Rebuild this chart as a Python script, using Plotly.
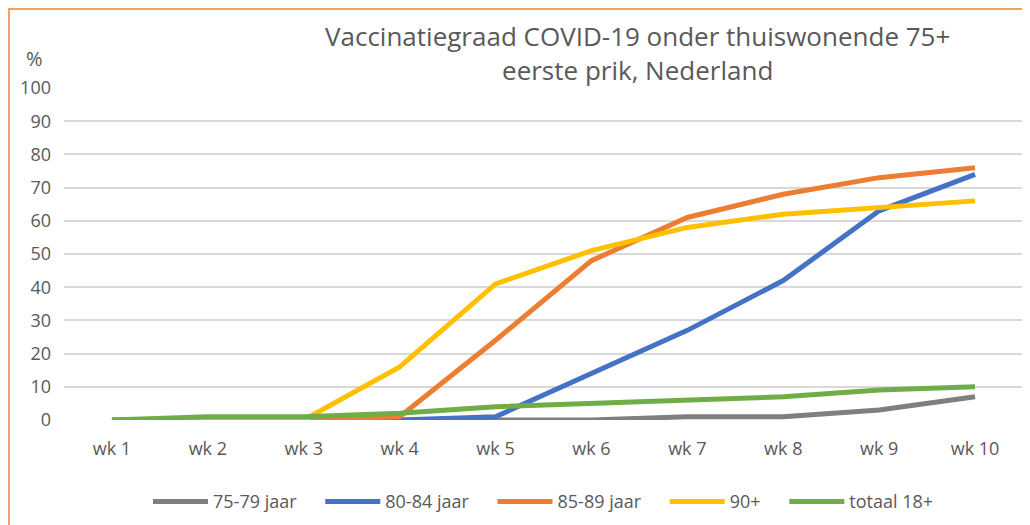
import plotly.graph_objects as go

# Weeks and vaccination percentages (first dose)
weeks = ["wk 1", "wk 2", "wk 3", "wk 4", "wk 5", "wk 6", "wk 7", "wk 8", "wk 9", "wk 10"]
age_75_79 = [0, 0, 0, 0, 0, 0, 1, 1, 3, 7]
age_80_84 = [0, 0, 0, 0, 1, 14, 27, 42, 63, 74]
age_85_89 = [0, 0, 0, 1, 24, 48, 61, 68, 73, 76]
age_90plus = [0, 0, 0, 16, 41, 51, 58, 62, 64, 66]
totaal_18 = [0, 1, 1, 2, 4, 5, 6, 7, 9, 10]

series = [
    ("75-79 jaar", age_75_79, "#7f7f7f"),
    ("80-84 jaar", age_80_84, "#4472c4"),
    ("85-89 jaar", age_85_89, "#ed7d31"),
    ("90+", age_90plus, "#ffc000"),
    ("totaal 18+", totaal_18, "#70ad47"),
]

fig = go.Figure()
for i, (name, vals, color) in enumerate(series):
    # a few non-breaking spaces widen the gap between legend entries
    label = name if i == len(series) - 1 else name + "\u00a0" * 4
    fig.add_trace(go.Scatter(x=weeks, y=vals, mode="lines", name=label,
                             line=dict(color=color, width=5)))

font_family = "Open Sans, Lato, sans-serif"
grey = "#595959"
# the page body has an 8px margin, so the figure is 8px smaller than the window
fig.update_layout(
    width=1022, height=517,
    margin=dict(l=56, r=7, t=80, b=105, autoexpand=False),
    paper_bgcolor="white", plot_bgcolor="white",
    font=dict(family=font_family, color=grey, size=18),
    showlegend=True,
    legend=dict(orientation="h", x=0.5, xanchor="center",
                yref="container", y=0.045, yanchor="middle", itemwidth=55,
                font=dict(size=18, color=grey), traceorder="normal"),
    xaxis=dict(type="category", range=[-0.5, 9.5], showgrid=False, zeroline=False,
               showline=False, ticks="", automargin=False, ticklabelstandoff=16,
               tickfont=dict(size=18, color=grey)),
    yaxis=dict(range=[0, 100], dtick=10, showgrid=True, gridcolor="#d9d9d9", gridwidth=1.5,
               zeroline=False, showline=False, ticks="", automargin=False,
               ticklabelstandoff=12, tickfont=dict(size=18, color=grey)),
)

fig.add_annotation(text="Vaccinatiegraad COVID-19 onder thuiswonende 75+<br>eerste prik, Nederland",
                   xref="paper", yref="paper", x=0.598, y=1.104, xanchor="center", yanchor="middle",
                   showarrow=False, font=dict(size=26, color=grey, family=font_family))
fig.add_annotation(text="%", xref="paper", yref="paper", x=-0.031, y=1.09,
                   xanchor="center", yanchor="middle", showarrow=False,
                   font=dict(size=20, color=grey))

# Orange chart border (left and top visible)
fig.add_shape(type="rect", xref="paper", yref="paper", x0=-0.0574, y0=-0.4, x1=1.05, y1=1.238,
              line=dict(color="#f4a060", width=2), layer="below")

fig.write_html("out.html")
